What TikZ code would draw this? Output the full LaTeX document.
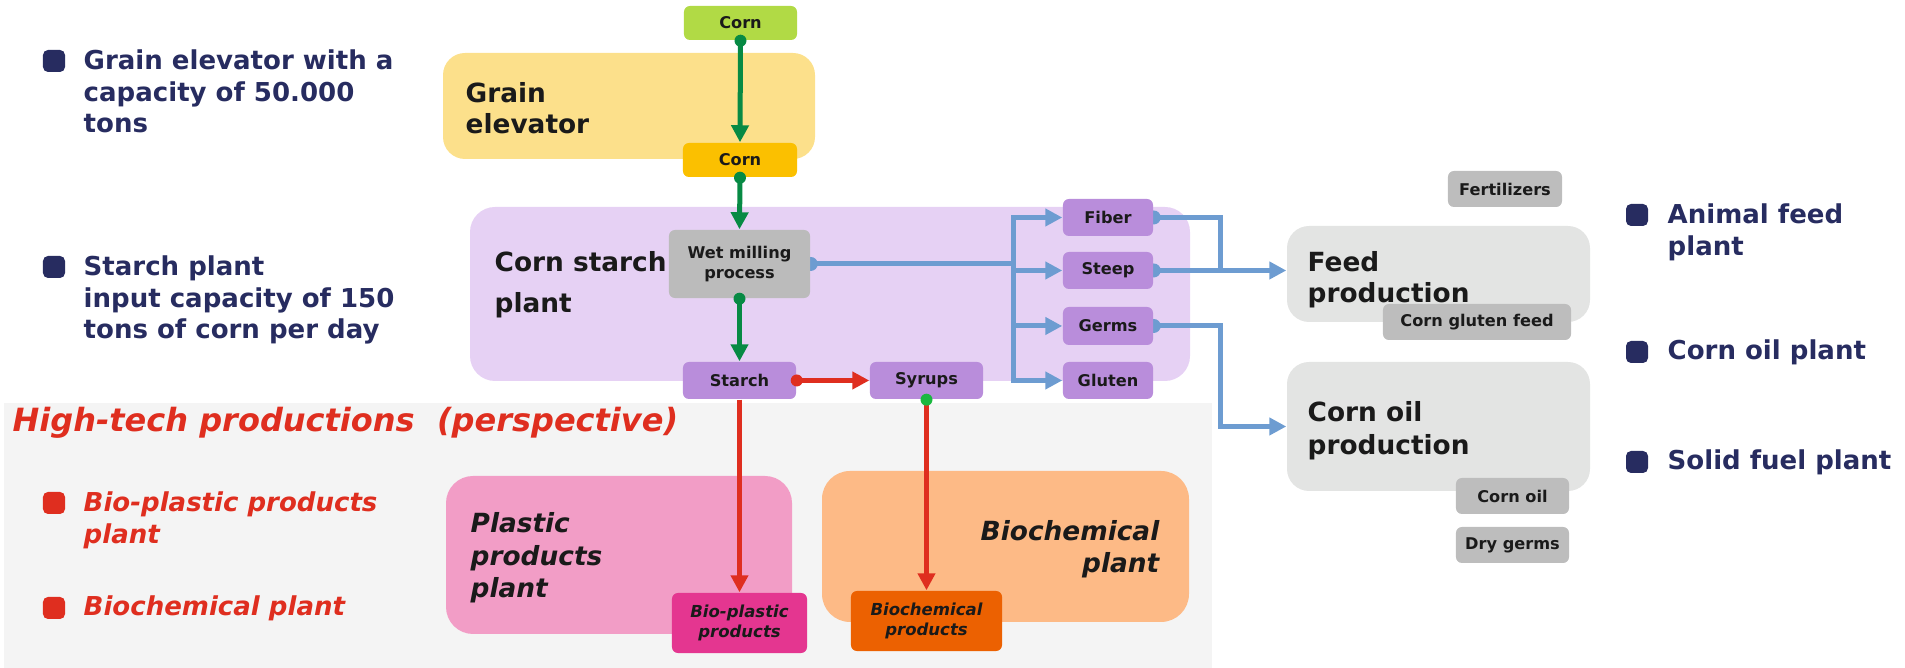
\documentclass[tikz,border=0pt]{standalone}
\usepackage{fontspec}
\setmainfont{DejaVu Sans}[ItalicFont={DejaVu Sans Oblique},BoldFont={DejaVu Sans Bold},BoldItalicFont={DejaVu Sans Bold Oblique}]
\usetikzlibrary{arrows.meta,fit}
\definecolor{txt}{HTML}{1A1A1A}
\definecolor{navy}{HTML}{272C60}
\definecolor{redt}{HTML}{DF2E1F}
\definecolor{cornG}{HTML}{B1DA45}
\definecolor{cornY}{HTML}{FBC000}
\definecolor{geY}{HTML}{FCE08B}
\definecolor{csL}{HTML}{E6D1F4}
\definecolor{wmG}{HTML}{BBBBBB}
\definecolor{purp}{HTML}{B98DDB}
\definecolor{rgG}{HTML}{E3E4E3}
\definecolor{sgG}{HTML}{BDBDBD}
\definecolor{htbg}{HTML}{F4F4F4}
\definecolor{plP}{HTML}{F29DC6}
\definecolor{bcO}{HTML}{FDBA86}
\definecolor{bpM}{HTML}{E43690}
\definecolor{bprO}{HTML}{EC6101}
\definecolor{lnG}{HTML}{078A44}
\definecolor{lnB}{HTML}{6D9CD1}
\definecolor{lnR}{HTML}{DF2E1F}
\definecolor{dotG}{HTML}{1BB83F}
\pgfdeclarelayer{back}
\pgfdeclarelayer{mid}
\pgfsetlayers{back,mid,main}
\tikzset{
  region/.style={rounded corners=0.22cm, inner sep=0pt, draw=none},
  sbox/.style={rounded corners=0.06cm, inner sep=0pt, draw=none, text=txt, align=center,
    font=\fontsize{4.6}{5.9}\selectfont\bfseries},
  ibox/.style={sbox, font=\fontsize{4.7}{5.7}\selectfont\bfseries\itshape},
  bigtxt/.style={inner sep=0pt, text=txt, align=left, anchor=west,
    font=\fontsize{7.5}{8.9}\selectfont\bfseries},
  navytxt/.style={inner sep=0pt, text=navy, align=left, anchor=west,
    font=\fontsize{7.4}{9}\selectfont\bfseries},
  redtxt/.style={inner sep=0pt, text=redt, align=left, anchor=west,
    font=\fontsize{7.4}{9}\selectfont\bfseries\itshape},
  bullet/.style={minimum size=0.22cm, inner sep=0pt, rounded corners=0.05cm, draw=none},
  arr/.style={line width=0.05cm, -{Triangle[length=0.17cm,width=0.17cm]}},
  garrow/.style={arr, draw=lnG},
  barrow/.style={arr, draw=lnB},
  bline/.style={line width=0.05cm, draw=lnB},
  rarrow/.style={arr, draw=lnR},
}
\begin{document}
\begin{tikzpicture}[x=0.01cm,y=-0.01cm]
\useasboundingbox (0,0) rectangle (1905,668);
% background regions
\begin{pgfonlayer}{back}
\node[region, rounded corners=0pt, fill=htbg, fit={(4,403)(1212,668)}] (ht) {};
\node[region, fill=geY, fit={(443,53)(815,159)}] (ge) {};
\node[region, rounded corners=0.25cm, fill=csL, fit={(470,207)(1190,381)}] (cs) {};
\node[region, fill=rgG, fit={(1287,226)(1590,322)}] (feed) {};
\node[region, fill=rgG, fit={(1287,362)(1590,491)}] (cop) {};
\node[region, rounded corners=0.27cm, fill=plP, fit={(446,476)(792,634)}] (pp) {};
\node[region, rounded corners=0.28cm, fill=bcO, fit={(822,471)(1189,622)}] (bp) {};
\end{pgfonlayer}
% region labels
\node[bigtxt] (geT) at (465,108) {Grain\\elevator};
\node[bigtxt, font=\fontsize{7.5}{11.6}\selectfont\bfseries] (csT) at (494,285) {Corn starch\\plant};
\node[bigtxt] (feedT) at (1307,280) {Feed\\production};
\node[bigtxt, font=\fontsize{7.5}{9.5}\selectfont\bfseries] (copT) at (1307,431) {Corn oil\\production};
\node[bigtxt, font=\fontsize{7.5}{9.3}\selectfont\bfseries\itshape] (ppT) at (470,558) {Plastic\\products\\plant};
\node[bigtxt, anchor=east, align=right, font=\fontsize{7.5}{9}\selectfont\bfseries\itshape] (bpT) at (1160,549) {Biochemical\\plant};
% small boxes (centre, width, height in px)
\node[sbox, fill=cornG, minimum width=1.13cm, minimum height=0.34cm] (c1) at (740.5,23) {Corn};
\node[sbox, fill=cornY, minimum width=1.14cm, minimum height=0.34cm] (c2) at (740,160) {Corn};
\node[sbox, fill=wmG, minimum width=1.41cm, minimum height=0.68cm] (wm) at (739.5,264) {Wet milling\\process};
\node[sbox, fill=purp, minimum width=0.90cm, minimum height=0.37cm] (fiber) at (1108,217.5) {Fiber};
\node[sbox, fill=purp, minimum width=0.90cm, minimum height=0.37cm] (steep) at (1108,270.5) {Steep};
\node[sbox, fill=purp, minimum width=0.90cm, minimum height=0.38cm] (germs) at (1108,326) {Germs};
\node[sbox, fill=purp, minimum width=0.90cm, minimum height=0.37cm] (gluten) at (1108,380.5) {Gluten};
\node[sbox, fill=purp, minimum width=1.13cm, minimum height=0.37cm] (starch) at (739.5,380.5) {Starch};
\node[sbox, fill=purp, minimum width=1.13cm, minimum height=0.37cm] (syrups) at (926.5,380.5) {Syrups};
\node[sbox, fill=sgG, minimum width=1.14cm, minimum height=0.36cm] (fert) at (1505,189) {Fertilizers};
\node[sbox, fill=sgG, minimum width=1.88cm, minimum height=0.36cm] (cgf) at (1477,322) {Corn gluten feed};
\node[sbox, fill=sgG, minimum width=1.13cm, minimum height=0.36cm] (coil) at (1512.5,496) {Corn oil};
\node[sbox, fill=sgG, minimum width=1.13cm, minimum height=0.36cm] (dg) at (1512.5,545) {Dry germs};
\node[ibox, fill=bpM, minimum width=1.35cm, minimum height=0.60cm] (bioplast) at (739.5,623) {Bio-plastic\\products};
\node[ibox, fill=bprO, minimum width=1.51cm, minimum height=0.60cm] (bioprod) at (926.5,621) {Biochemical\\products};
\coordinate (bus) at (1013,264);
\coordinate (fx) at (1220,0);
% blue connectors and half dots (behind boxes)
\begin{pgfonlayer}{mid}
\fill[lnB] (wm.east) circle (7);
\fill[lnB] (fiber.east) circle (7);
\fill[lnB] (steep.east) circle (7);
\fill[lnB] (germs.east) circle (7);
\draw[bline] (wm.east) -- (bus);
\draw[barrow] (bus) |- (fiber.west);
\draw[barrow] (bus) |- (gluten.west);
\draw[barrow] (bus |- steep.west) -- (steep.west);
\draw[barrow] (bus |- germs.west) -- (germs.west);
\draw[bline] (fiber.east) -- (fiber.east -| fx) -- (fx |- steep.east);
\draw[barrow] (steep.east) -- (steep.east -| feed.west);
\draw[barrow] (germs.east) -- (germs.east -| fx) |- (cop.west);
\end{pgfonlayer}
% green and red connectors
\draw[garrow] (c1.south) -- (c2.north);
\draw[garrow] (c2.south) -- (wm.north);
\draw[garrow] (wm.south) -- (starch.north);
\draw[rarrow] (starch.east) -- (syrups.west);
\draw[rarrow] (starch.south) -- (bioplast.north);
\draw[rarrow] (syrups.south) -- (bioprod.north);
\fill[lnG] (c1.south) circle (6);
\fill[lnG] (c2.south) circle (6);
\fill[lnG] (wm.south) circle (6);
\fill[lnR] (starch.east) circle (6);
\fill[dotG] (syrups.south) circle (6);
% left bullets
\node[bullet, fill=navy] (bl1) at (54,61) {};
\node[navytxt, anchor=north west] (tl1) at (83,49) {Grain elevator with a\\capacity of 50.000\\tons};
\node[bullet, fill=navy] (bl2) at (54,267) {};
\node[navytxt, anchor=north west] (tl2) at (83,255) {Starch plant\\input capacity of 150\\tons of corn per day};
% high-tech
\node[redtxt, font=\fontsize{9.1}{11}\selectfont\bfseries\itshape] (htT) at (12,423) {High-tech productions\ \ (perspective)};
\node[bullet, fill=redt] (bl3) at (54,503) {};
\node[redtxt, anchor=north west] (tl3) at (83,491) {Bio-plastic products\\plant};
\node[bullet, fill=redt] (bl4) at (54,608) {};
\node[redtxt] (tl4) at (83,608) {Biochemical plant};
% right bullets
\node[bullet, fill=navy] (br1) at (1637,215) {};
\node[navytxt, anchor=north west] (tr1) at (1667,203) {Animal feed\\plant};
\node[bullet, fill=navy] (br2) at (1637,352) {};
\node[navytxt] (tr2) at (1667,352) {Corn oil plant};
\node[bullet, fill=navy] (br3) at (1637,462) {};
\node[navytxt] (tr3) at (1667,462) {Solid fuel plant};
\end{tikzpicture}
\end{document}
